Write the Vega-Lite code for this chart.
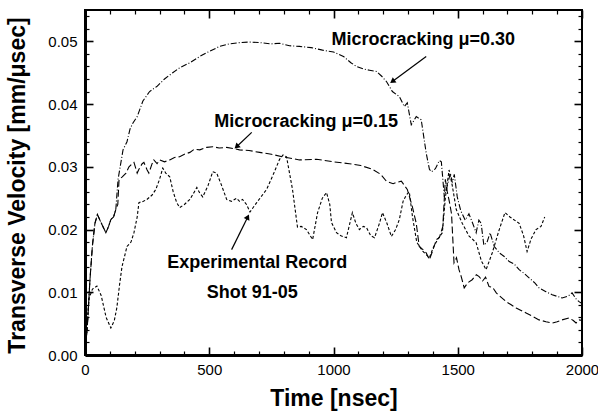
{
 "$schema": "https://vega.github.io/schema/vega-lite/v6.json",
 "width": 497, "height": 345,
 "autosize": {"type": "none"},
 "padding": {"left": 85, "top": 10, "right": 16, "bottom": 63},
 "background": "white",
 "config": {"view": {"stroke": "black", "strokeWidth": 2}, "font": "Liberation Sans", "axis": {"grid": false}},
 "datasets": {
  "dummy": [{"t": 0, "v": 0}, {"t": 2000, "v": 0.055}],
  "ann": [
   {"label": "Microcracking μ=0.30", "t": 1361, "v": 0.0502},
   {"label": "Microcracking μ=0.15", "t": 890, "v": 0.0372},
   {"label": "Experimental Record", "t": 693, "v": 0.0147},
   {"label": "Shot 91-05", "t": 673, "v": 0.0099}
  ],
  "arrows": [
   {"name": "a30", "t": 1373, "v": 0.0476, "t2": 1237, "v2": 0.0436},
   {"name": "a15", "t": 671, "v": 0.0355, "t2": 610, "v2": 0.0332},
   {"name": "aexp", "t": 590, "v": 0.0168, "t2": 655, "v2": 0.022}
  ],
  "curves": [
   {"s":"Experimental Record","t":0,"v":0},{"s":"Experimental Record","t":8,"v":0.004},{"s":"Experimental Record","t":16,"v":0.009},{"s":"Experimental Record","t":30,"v":0.0105},{"s":"Experimental Record","t":48,"v":0.011},{"s":"Experimental Record","t":65,"v":0.0095},{"s":"Experimental Record","t":85,"v":0.006},{"s":"Experimental Record","t":104,"v":0.0043},{"s":"Experimental Record","t":118,"v":0.0055},{"s":"Experimental Record","t":128,"v":0.0075},{"s":"Experimental Record","t":140,"v":0.0115},{"s":"Experimental Record","t":149,"v":0.0141},{"s":"Experimental Record","t":169,"v":0.0173},{"s":"Experimental Record","t":185,"v":0.018},{"s":"Experimental Record","t":197,"v":0.0195},{"s":"Experimental Record","t":210,"v":0.022},{"s":"Experimental Record","t":217,"v":0.0243},{"s":"Experimental Record","t":235,"v":0.0245},{"s":"Experimental Record","t":249,"v":0.0248},{"s":"Experimental Record","t":270,"v":0.0255},{"s":"Experimental Record","t":285,"v":0.0264},{"s":"Experimental Record","t":300,"v":0.028},{"s":"Experimental Record","t":313,"v":0.0298},{"s":"Experimental Record","t":325,"v":0.029},{"s":"Experimental Record","t":341,"v":0.0284},{"s":"Experimental Record","t":355,"v":0.026},{"s":"Experimental Record","t":369,"v":0.0243},{"s":"Experimental Record","t":381,"v":0.0235},{"s":"Experimental Record","t":400,"v":0.024},{"s":"Experimental Record","t":422,"v":0.0248},{"s":"Experimental Record","t":440,"v":0.026},{"s":"Experimental Record","t":450,"v":0.0267},{"s":"Experimental Record","t":462,"v":0.0258},{"s":"Experimental Record","t":474,"v":0.0252},{"s":"Experimental Record","t":495,"v":0.027},{"s":"Experimental Record","t":514,"v":0.0292},{"s":"Experimental Record","t":530,"v":0.029},{"s":"Experimental Record","t":550,"v":0.027},{"s":"Experimental Record","t":570,"v":0.0248},{"s":"Experimental Record","t":590,"v":0.0245},{"s":"Experimental Record","t":610,"v":0.025},{"s":"Experimental Record","t":622,"v":0.0245},{"s":"Experimental Record","t":634,"v":0.0248},{"s":"Experimental Record","t":650,"v":0.024},{"s":"Experimental Record","t":664,"v":0.0228},{"s":"Experimental Record","t":691,"v":0.0243},{"s":"Experimental Record","t":731,"v":0.0264},{"s":"Experimental Record","t":760,"v":0.029},{"s":"Experimental Record","t":783,"v":0.0312},{"s":"Experimental Record","t":797,"v":0.0319},{"s":"Experimental Record","t":811,"v":0.0316},{"s":"Experimental Record","t":835,"v":0.0264},{"s":"Experimental Record","t":855,"v":0.0204},{"s":"Experimental Record","t":870,"v":0.0205},{"s":"Experimental Record","t":891,"v":0.02},{"s":"Experimental Record","t":916,"v":0.0184},{"s":"Experimental Record","t":936,"v":0.0227},{"s":"Experimental Record","t":955,"v":0.025},{"s":"Experimental Record","t":972,"v":0.0259},{"s":"Experimental Record","t":985,"v":0.024},{"s":"Experimental Record","t":992,"v":0.0211},{"s":"Experimental Record","t":1012,"v":0.0195},{"s":"Experimental Record","t":1030,"v":0.019},{"s":"Experimental Record","t":1052,"v":0.0187},{"s":"Experimental Record","t":1076,"v":0.0227},{"s":"Experimental Record","t":1090,"v":0.021},{"s":"Experimental Record","t":1104,"v":0.02},{"s":"Experimental Record","t":1120,"v":0.0205},{"s":"Experimental Record","t":1133,"v":0.0203},{"s":"Experimental Record","t":1150,"v":0.019},{"s":"Experimental Record","t":1165,"v":0.0187},{"s":"Experimental Record","t":1185,"v":0.021},{"s":"Experimental Record","t":1197,"v":0.0227},{"s":"Experimental Record","t":1215,"v":0.021},{"s":"Experimental Record","t":1233,"v":0.0189},{"s":"Experimental Record","t":1250,"v":0.02},{"s":"Experimental Record","t":1265,"v":0.0216},{"s":"Experimental Record","t":1280,"v":0.0245},{"s":"Experimental Record","t":1293,"v":0.0255},{"s":"Experimental Record","t":1305,"v":0.026},{"s":"Experimental Record","t":1318,"v":0.022},{"s":"Experimental Record","t":1335,"v":0.018},{"s":"Experimental Record","t":1360,"v":0.0165},{"s":"Experimental Record","t":1386,"v":0.0155},{"s":"Experimental Record","t":1400,"v":0.017},{"s":"Experimental Record","t":1420,"v":0.0185},{"s":"Experimental Record","t":1438,"v":0.0195},{"s":"Experimental Record","t":1450,"v":0.025},{"s":"Experimental Record","t":1465,"v":0.0295},{"s":"Experimental Record","t":1478,"v":0.027},{"s":"Experimental Record","t":1494,"v":0.0232},{"s":"Experimental Record","t":1518,"v":0.021},{"s":"Experimental Record","t":1545,"v":0.019},{"s":"Experimental Record","t":1574,"v":0.0179},{"s":"Experimental Record","t":1595,"v":0.015},{"s":"Experimental Record","t":1614,"v":0.0136},{"s":"Experimental Record","t":1639,"v":0.0163},{"s":"Experimental Record","t":1667,"v":0.02},{"s":"Experimental Record","t":1690,"v":0.0227},{"s":"Experimental Record","t":1710,"v":0.022},{"s":"Experimental Record","t":1747,"v":0.021},{"s":"Experimental Record","t":1765,"v":0.019},{"s":"Experimental Record","t":1779,"v":0.0165},{"s":"Experimental Record","t":1795,"v":0.0185},{"s":"Experimental Record","t":1815,"v":0.02},{"s":"Experimental Record","t":1835,"v":0.0205},{"s":"Experimental Record","t":1850,"v":0.022},
   {"s":"Microcracking μ=0.15","t":0,"v":0},{"s":"Microcracking μ=0.15","t":10,"v":0.005},{"s":"Microcracking μ=0.15","t":20,"v":0.012},{"s":"Microcracking μ=0.15","t":30,"v":0.0175},{"s":"Microcracking μ=0.15","t":40,"v":0.021},{"s":"Microcracking μ=0.15","t":50,"v":0.0224},{"s":"Microcracking μ=0.15","t":60,"v":0.0215},{"s":"Microcracking μ=0.15","t":72,"v":0.0205},{"s":"Microcracking μ=0.15","t":84,"v":0.0195},{"s":"Microcracking μ=0.15","t":95,"v":0.0205},{"s":"Microcracking μ=0.15","t":104,"v":0.0216},{"s":"Microcracking μ=0.15","t":115,"v":0.022},{"s":"Microcracking μ=0.15","t":124,"v":0.0232},{"s":"Microcracking μ=0.15","t":132,"v":0.024},{"s":"Microcracking μ=0.15","t":137,"v":0.028},{"s":"Microcracking μ=0.15","t":150,"v":0.0284},{"s":"Microcracking μ=0.15","t":165,"v":0.029},{"s":"Microcracking μ=0.15","t":177,"v":0.03},{"s":"Microcracking μ=0.15","t":190,"v":0.0305},{"s":"Microcracking μ=0.15","t":197,"v":0.0307},{"s":"Microcracking μ=0.15","t":210,"v":0.029},{"s":"Microcracking μ=0.15","t":217,"v":0.0296},{"s":"Microcracking μ=0.15","t":230,"v":0.0305},{"s":"Microcracking μ=0.15","t":237,"v":0.0307},{"s":"Microcracking μ=0.15","t":250,"v":0.0295},{"s":"Microcracking μ=0.15","t":257,"v":0.029},{"s":"Microcracking μ=0.15","t":270,"v":0.0305},{"s":"Microcracking μ=0.15","t":277,"v":0.0311},{"s":"Microcracking μ=0.15","t":290,"v":0.0305},{"s":"Microcracking μ=0.15","t":301,"v":0.0311},{"s":"Microcracking μ=0.15","t":320,"v":0.0308},{"s":"Microcracking μ=0.15","t":341,"v":0.0311},{"s":"Microcracking μ=0.15","t":360,"v":0.0315},{"s":"Microcracking μ=0.15","t":381,"v":0.0316},{"s":"Microcracking μ=0.15","t":400,"v":0.032},{"s":"Microcracking μ=0.15","t":422,"v":0.0323},{"s":"Microcracking μ=0.15","t":440,"v":0.0328},{"s":"Microcracking μ=0.15","t":462,"v":0.0327},{"s":"Microcracking μ=0.15","t":490,"v":0.0331},{"s":"Microcracking μ=0.15","t":514,"v":0.0332},{"s":"Microcracking μ=0.15","t":540,"v":0.033},{"s":"Microcracking μ=0.15","t":570,"v":0.0331},{"s":"Microcracking μ=0.15","t":600,"v":0.0329},{"s":"Microcracking μ=0.15","t":622,"v":0.0327},{"s":"Microcracking μ=0.15","t":660,"v":0.0326},{"s":"Microcracking μ=0.15","t":703,"v":0.0323},{"s":"Microcracking μ=0.15","t":750,"v":0.032},{"s":"Microcracking μ=0.15","t":795,"v":0.0316},{"s":"Microcracking μ=0.15","t":863,"v":0.0311},{"s":"Microcracking μ=0.15","t":932,"v":0.0312},{"s":"Microcracking μ=0.15","t":1000,"v":0.0308},{"s":"Microcracking μ=0.15","t":1064,"v":0.0305},{"s":"Microcracking μ=0.15","t":1110,"v":0.0302},{"s":"Microcracking μ=0.15","t":1157,"v":0.0296},{"s":"Microcracking μ=0.15","t":1190,"v":0.0288},{"s":"Microcracking μ=0.15","t":1213,"v":0.0277},{"s":"Microcracking μ=0.15","t":1240,"v":0.0273},{"s":"Microcracking μ=0.15","t":1253,"v":0.0275},{"s":"Microcracking μ=0.15","t":1273,"v":0.0277},{"s":"Microcracking μ=0.15","t":1297,"v":0.0264},{"s":"Microcracking μ=0.15","t":1317,"v":0.0237},{"s":"Microcracking μ=0.15","t":1333,"v":0.021},{"s":"Microcracking μ=0.15","t":1345,"v":0.0173},{"s":"Microcracking μ=0.15","t":1360,"v":0.0168},{"s":"Microcracking μ=0.15","t":1373,"v":0.0163},{"s":"Microcracking μ=0.15","t":1386,"v":0.0152},{"s":"Microcracking μ=0.15","t":1398,"v":0.0165},{"s":"Microcracking μ=0.15","t":1414,"v":0.0184},{"s":"Microcracking μ=0.15","t":1426,"v":0.0187},{"s":"Microcracking μ=0.15","t":1440,"v":0.0205},{"s":"Microcracking μ=0.15","t":1450,"v":0.028},{"s":"Microcracking μ=0.15","t":1458,"v":0.026},{"s":"Microcracking μ=0.15","t":1466,"v":0.0245},{"s":"Microcracking μ=0.15","t":1475,"v":0.0225},{"s":"Microcracking μ=0.15","t":1485,"v":0.0147},{"s":"Microcracking μ=0.15","t":1495,"v":0.0155},{"s":"Microcracking μ=0.15","t":1505,"v":0.0136},{"s":"Microcracking μ=0.15","t":1514,"v":0.0125},{"s":"Microcracking μ=0.15","t":1526,"v":0.0107},{"s":"Microcracking μ=0.15","t":1540,"v":0.0115},{"s":"Microcracking μ=0.15","t":1558,"v":0.012},{"s":"Microcracking μ=0.15","t":1575,"v":0.0128},{"s":"Microcracking μ=0.15","t":1586,"v":0.0125},{"s":"Microcracking μ=0.15","t":1600,"v":0.0118},{"s":"Microcracking μ=0.15","t":1612,"v":0.0124},{"s":"Microcracking μ=0.15","t":1626,"v":0.0109},{"s":"Microcracking μ=0.15","t":1640,"v":0.0108},{"s":"Microcracking μ=0.15","t":1655,"v":0.0099},{"s":"Microcracking μ=0.15","t":1675,"v":0.0092},{"s":"Microcracking μ=0.15","t":1695,"v":0.0085},{"s":"Microcracking μ=0.15","t":1715,"v":0.008},{"s":"Microcracking μ=0.15","t":1735,"v":0.0075},{"s":"Microcracking μ=0.15","t":1755,"v":0.0071},{"s":"Microcracking μ=0.15","t":1775,"v":0.0067},{"s":"Microcracking μ=0.15","t":1800,"v":0.0062},{"s":"Microcracking μ=0.15","t":1827,"v":0.0056},{"s":"Microcracking μ=0.15","t":1855,"v":0.0053},{"s":"Microcracking μ=0.15","t":1880,"v":0.0051},{"s":"Microcracking μ=0.15","t":1900,"v":0.0053},{"s":"Microcracking μ=0.15","t":1920,"v":0.0056},{"s":"Microcracking μ=0.15","t":1948,"v":0.0059},{"s":"Microcracking μ=0.15","t":1965,"v":0.0055},{"s":"Microcracking μ=0.15","t":1976,"v":0.0051},{"s":"Microcracking μ=0.15","t":1990,"v":0.0056},{"s":"Microcracking μ=0.15","t":2000,"v":0.0055},
   {"s":"Microcracking μ=0.30","t":0,"v":0},{"s":"Microcracking μ=0.30","t":10,"v":0.005},{"s":"Microcracking μ=0.30","t":20,"v":0.012},{"s":"Microcracking μ=0.30","t":30,"v":0.0175},{"s":"Microcracking μ=0.30","t":40,"v":0.021},{"s":"Microcracking μ=0.30","t":50,"v":0.0224},{"s":"Microcracking μ=0.30","t":60,"v":0.0215},{"s":"Microcracking μ=0.30","t":72,"v":0.0205},{"s":"Microcracking μ=0.30","t":84,"v":0.0195},{"s":"Microcracking μ=0.30","t":95,"v":0.0205},{"s":"Microcracking μ=0.30","t":104,"v":0.0216},{"s":"Microcracking μ=0.30","t":115,"v":0.022},{"s":"Microcracking μ=0.30","t":124,"v":0.0232},{"s":"Microcracking μ=0.30","t":133,"v":0.028},{"s":"Microcracking μ=0.30","t":153,"v":0.0327},{"s":"Microcracking μ=0.30","t":169,"v":0.034},{"s":"Microcracking μ=0.30","t":181,"v":0.036},{"s":"Microcracking μ=0.30","t":193,"v":0.037},{"s":"Microcracking μ=0.30","t":210,"v":0.038},{"s":"Microcracking μ=0.30","t":233,"v":0.0405},{"s":"Microcracking μ=0.30","t":260,"v":0.042},{"s":"Microcracking μ=0.30","t":289,"v":0.0428},{"s":"Microcracking μ=0.30","t":320,"v":0.044},{"s":"Microcracking μ=0.30","t":353,"v":0.045},{"s":"Microcracking μ=0.30","t":381,"v":0.0458},{"s":"Microcracking μ=0.30","t":422,"v":0.0466},{"s":"Microcracking μ=0.30","t":462,"v":0.0476},{"s":"Microcracking μ=0.30","t":490,"v":0.0482},{"s":"Microcracking μ=0.30","t":542,"v":0.0492},{"s":"Microcracking μ=0.30","t":580,"v":0.0496},{"s":"Microcracking μ=0.30","t":622,"v":0.0498},{"s":"Microcracking μ=0.30","t":660,"v":0.0499},{"s":"Microcracking μ=0.30","t":703,"v":0.0498},{"s":"Microcracking μ=0.30","t":750,"v":0.0496},{"s":"Microcracking μ=0.30","t":783,"v":0.0497},{"s":"Microcracking μ=0.30","t":823,"v":0.0493},{"s":"Microcracking μ=0.30","t":863,"v":0.0492},{"s":"Microcracking μ=0.30","t":910,"v":0.049},{"s":"Microcracking μ=0.30","t":956,"v":0.0486},{"s":"Microcracking μ=0.30","t":1000,"v":0.0483},{"s":"Microcracking μ=0.30","t":1040,"v":0.0476},{"s":"Microcracking μ=0.30","t":1070,"v":0.0466},{"s":"Microcracking μ=0.30","t":1092,"v":0.046},{"s":"Microcracking μ=0.30","t":1120,"v":0.0456},{"s":"Microcracking μ=0.30","t":1145,"v":0.0454},{"s":"Microcracking μ=0.30","t":1173,"v":0.0452},{"s":"Microcracking μ=0.30","t":1195,"v":0.0444},{"s":"Microcracking μ=0.30","t":1213,"v":0.0436},{"s":"Microcracking μ=0.30","t":1237,"v":0.042},{"s":"Microcracking μ=0.30","t":1265,"v":0.0412},{"s":"Microcracking μ=0.30","t":1285,"v":0.0396},{"s":"Microcracking μ=0.30","t":1297,"v":0.0402},{"s":"Microcracking μ=0.30","t":1313,"v":0.0367},{"s":"Microcracking μ=0.30","t":1333,"v":0.038},{"s":"Microcracking μ=0.30","t":1353,"v":0.0375},{"s":"Microcracking μ=0.30","t":1373,"v":0.0322},{"s":"Microcracking μ=0.30","t":1386,"v":0.0296},{"s":"Microcracking μ=0.30","t":1394,"v":0.0292},{"s":"Microcracking μ=0.30","t":1410,"v":0.0297},{"s":"Microcracking μ=0.30","t":1426,"v":0.031},{"s":"Microcracking μ=0.30","t":1434,"v":0.0308},{"s":"Microcracking μ=0.30","t":1446,"v":0.0252},{"s":"Microcracking μ=0.30","t":1458,"v":0.027},{"s":"Microcracking μ=0.30","t":1470,"v":0.029},{"s":"Microcracking μ=0.30","t":1478,"v":0.0275},{"s":"Microcracking μ=0.30","t":1486,"v":0.0288},{"s":"Microcracking μ=0.30","t":1498,"v":0.0252},{"s":"Microcracking μ=0.30","t":1512,"v":0.023},{"s":"Microcracking μ=0.30","t":1530,"v":0.0215},{"s":"Microcracking μ=0.30","t":1545,"v":0.0225},{"s":"Microcracking μ=0.30","t":1560,"v":0.021},{"s":"Microcracking μ=0.30","t":1574,"v":0.0195},{"s":"Microcracking μ=0.30","t":1585,"v":0.0215},{"s":"Microcracking μ=0.30","t":1594,"v":0.021},{"s":"Microcracking μ=0.30","t":1605,"v":0.0175},{"s":"Microcracking μ=0.30","t":1618,"v":0.018},{"s":"Microcracking μ=0.30","t":1630,"v":0.0195},{"s":"Microcracking μ=0.30","t":1647,"v":0.0173},{"s":"Microcracking μ=0.30","t":1667,"v":0.0163},{"s":"Microcracking μ=0.30","t":1687,"v":0.0157},{"s":"Microcracking μ=0.30","t":1707,"v":0.0149},{"s":"Microcracking μ=0.30","t":1727,"v":0.0145},{"s":"Microcracking μ=0.30","t":1747,"v":0.0136},{"s":"Microcracking μ=0.30","t":1767,"v":0.013},{"s":"Microcracking μ=0.30","t":1787,"v":0.0123},{"s":"Microcracking μ=0.30","t":1810,"v":0.0115},{"s":"Microcracking μ=0.30","t":1827,"v":0.0107},{"s":"Microcracking μ=0.30","t":1855,"v":0.0101},{"s":"Microcracking μ=0.30","t":1880,"v":0.0096},{"s":"Microcracking μ=0.30","t":1920,"v":0.0091},{"s":"Microcracking μ=0.30","t":1945,"v":0.0094},{"s":"Microcracking μ=0.30","t":1960,"v":0.0099},{"s":"Microcracking μ=0.30","t":1975,"v":0.009},{"s":"Microcracking μ=0.30","t":1988,"v":0.0085},{"s":"Microcracking μ=0.30","t":2000,"v":0.0082}
  ]
 },
 "layer": [
  {
   "data": {"name": "curves"},
   "mark": {"type": "line", "color": "black", "strokeWidth": 1.1},
   "encoding": {
    "x": {"field": "t", "type": "quantitative", "scale": {"domain": [0, 2000], "nice": false, "zero": false},
     "axis": {"orient": "bottom", "values": [0, 500, 1000, 1500, 2000], "format": "d", "ticks": false, "domain": true, "domainWidth": 3, "domainColor": "black",
      "labelFont": "Liberation Sans", "labelFontSize": 15, "labelColor": "black", "labelPadding": 7, "labelFlush": false,
      "title": "Time [nsec]", "titleFont": "Liberation Sans", "titleFontSize": 23, "titleFontWeight": "bold", "titleColor": "black",
      "titleX": 248.5, "titleY": 43, "titleBaseline": "middle", "titleAlign": "center"}},
    "y": {"field": "v", "type": "quantitative", "scale": {"domain": [0, 0.055], "nice": false},
     "axis": {"orient": "left", "values": [0, 0.01, 0.02, 0.03, 0.04, 0.05], "format": ".2f", "ticks": false, "domain": true, "domainWidth": 3, "domainColor": "black",
      "labelFont": "Liberation Sans", "labelFontSize": 15, "labelColor": "black", "labelPadding": 8,
      "title": "Transverse Velocity [mm/μsec]", "titleFont": "Liberation Sans", "titleFontSize": 23, "titleFontWeight": "bold", "titleColor": "black",
      "titleX": -68, "titleY": 175, "titleAngle": -90, "titleAlign": "center", "titleBaseline": "middle"}},
    "detail": {"field": "s"},
    "strokeDash": {"field": "s", "type": "nominal", "legend": null,
     "scale": {"domain": ["Experimental Record", "Microcracking μ=0.15", "Microcracking μ=0.30"], "range": [[3, 2], [7, 3], [6, 2, 1, 2]]}},
    "strokeWidth": {"field": "s", "type": "nominal", "legend": null,
     "scale": {"domain": ["Experimental Record", "Microcracking μ=0.15", "Microcracking μ=0.30"], "range": [1, 1.5, 1]}}
   }
  },
  {
   "data": {"name": "dummy"},
   "mark": {"type": "point", "opacity": 0},
   "encoding": {
    "x": {"field": "t", "type": "quantitative", "scale": {"domain": [0, 2000], "nice": false, "zero": false},
     "axis": {"orient": "bottom", "values": [0, 500, 1000, 1500, 2000], "labels": false, "domain": false, "ticks": true, "tickSize": -8, "tickWidth": 1.6, "tickColor": "black", "title": null}},
    "y": {"field": "v", "type": "quantitative", "scale": {"domain": [0, 0.055], "nice": false},
     "axis": {"orient": "left", "values": [0, 0.01, 0.02, 0.03, 0.04, 0.05], "labels": false, "domain": false, "ticks": true, "tickSize": -8, "tickWidth": 1.6, "tickColor": "black", "title": null}}
   }
  },
  {
   "data": {"name": "dummy"},
   "mark": {"type": "point", "opacity": 0},
   "encoding": {
    "x": {"field": "t", "type": "quantitative", "scale": {"domain": [0, 2000], "nice": false, "zero": false},
     "axis": {"orient": "bottom", "values": [100, 200, 300, 400, 600, 700, 800, 900, 1100, 1200, 1300, 1400, 1600, 1700, 1800, 1900], "labels": false, "domain": false, "ticks": true, "tickSize": -4, "tickWidth": 1.2, "tickColor": "black", "title": null}},
    "y": {"field": "v", "type": "quantitative", "scale": {"domain": [0, 0.055], "nice": false},
     "axis": {"orient": "left", "values": [0.002, 0.004, 0.006, 0.008, 0.012, 0.014, 0.016, 0.018, 0.022, 0.024, 0.026, 0.028, 0.032, 0.034, 0.036, 0.038, 0.042, 0.044, 0.046, 0.048, 0.052, 0.054], "labels": false, "domain": false, "ticks": true, "tickSize": -4, "tickWidth": 1.2, "tickColor": "black", "title": null}}
   }
  },
  {
   "data": {"name": "dummy"},
   "mark": {"type": "point", "opacity": 0},
   "encoding": {
    "x": {"field": "t", "type": "quantitative", "scale": {"domain": [0, 2000], "nice": false, "zero": false},
     "axis": {"orient": "top", "values": [0, 500, 1000, 1500, 2000], "labels": false, "domain": false, "ticks": true, "tickSize": -8, "tickWidth": 1.6, "tickColor": "black", "title": null}},
    "y": {"field": "v", "type": "quantitative", "scale": {"domain": [0, 0.055], "nice": false},
     "axis": {"orient": "right", "values": [0, 0.01, 0.02, 0.03, 0.04, 0.05], "labels": false, "domain": false, "ticks": true, "tickSize": -8, "tickWidth": 1.6, "tickColor": "black", "title": null}}
   }
  },
  {
   "data": {"name": "dummy"},
   "mark": {"type": "point", "opacity": 0},
   "encoding": {
    "x": {"field": "t", "type": "quantitative", "scale": {"domain": [0, 2000], "nice": false, "zero": false},
     "axis": {"orient": "top", "values": [100, 200, 300, 400, 600, 700, 800, 900, 1100, 1200, 1300, 1400, 1600, 1700, 1800, 1900], "labels": false, "domain": false, "ticks": true, "tickSize": -4, "tickWidth": 1.2, "tickColor": "black", "title": null}},
    "y": {"field": "v", "type": "quantitative", "scale": {"domain": [0, 0.055], "nice": false},
     "axis": {"orient": "right", "values": [0.002, 0.004, 0.006, 0.008, 0.012, 0.014, 0.016, 0.018, 0.022, 0.024, 0.026, 0.028, 0.032, 0.034, 0.036, 0.038, 0.042, 0.044, 0.046, 0.048, 0.052, 0.054], "labels": false, "domain": false, "ticks": true, "tickSize": -4, "tickWidth": 1.2, "tickColor": "black", "title": null}}
   }
  },
  {
   "data": {"name": "ann"},
   "mark": {"type": "text", "font": "Liberation Sans", "fontWeight": "bold", "fontSize": 18, "align": "center", "baseline": "middle", "color": "black"},
   "encoding": {
    "x": {"field": "t", "type": "quantitative", "scale": {"domain": [0, 2000], "nice": false, "zero": false}, "axis": null},
    "y": {"field": "v", "type": "quantitative", "scale": {"domain": [0, 0.055], "nice": false}, "axis": null},
    "text": {"field": "label"}
   }
  },
  {
   "data": {"name": "arrows"},
   "mark": {"type": "rule", "color": "black", "strokeWidth": 1.2},
   "encoding": {
    "x": {"field": "t", "type": "quantitative", "scale": {"domain": [0, 2000], "nice": false, "zero": false}, "axis": null},
    "y": {"field": "v", "type": "quantitative", "scale": {"domain": [0, 0.055], "nice": false}, "axis": null},
    "x2": {"field": "t2"},
    "y2": {"field": "v2"}
   }
  },
  {
   "data": {"name": "arrows"},
   "transform": [{"filter": "datum.name === 'a30'"}],
   "mark": {"type": "point", "shape": "triangle-up", "filled": true, "color": "black", "opacity": 1, "size": 40, "angle": 234},
   "encoding": {
    "x": {"field": "t2", "type": "quantitative", "scale": {"domain": [0, 2000], "nice": false, "zero": false}, "axis": null},
    "y": {"field": "v2", "type": "quantitative", "scale": {"domain": [0, 0.055], "nice": false}, "axis": null}
   }
  },
  {
   "data": {"name": "arrows"},
   "transform": [{"filter": "datum.name === 'a15'"}],
   "mark": {"type": "point", "shape": "triangle-up", "filled": true, "color": "black", "opacity": 1, "size": 40, "angle": 227},
   "encoding": {
    "x": {"field": "t2", "type": "quantitative", "scale": {"domain": [0, 2000], "nice": false, "zero": false}, "axis": null},
    "y": {"field": "v2", "type": "quantitative", "scale": {"domain": [0, 0.055], "nice": false}, "axis": null}
   }
  },
  {
   "data": {"name": "arrows"},
   "transform": [{"filter": "datum.name === 'aexp'"}],
   "mark": {"type": "point", "shape": "triangle-up", "filled": true, "color": "black", "opacity": 1, "size": 40, "angle": 26},
   "encoding": {
    "x": {"field": "t2", "type": "quantitative", "scale": {"domain": [0, 2000], "nice": false, "zero": false}, "axis": null},
    "y": {"field": "v2", "type": "quantitative", "scale": {"domain": [0, 0.055], "nice": false}, "axis": null}
   }
  }
 ],
 "resolve": {"axis": {"x": "independent", "y": "independent"}}
}
